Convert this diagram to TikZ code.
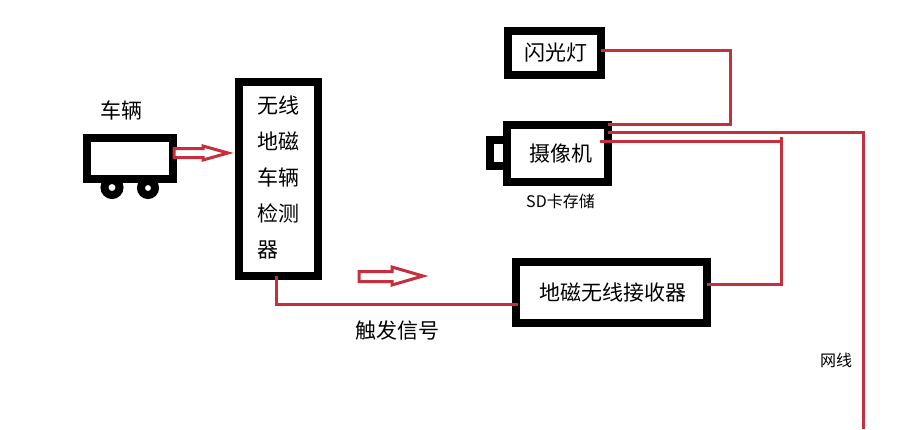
\documentclass[tikz,border=0pt]{standalone}
\usepackage{fontspec}
\setmainfont{Noto Sans CJK SC}
\definecolor{wire}{HTML}{C62F3B}
\newcommand{\fs}[2]{\fontsize{#1}{#2}\selectfont}
\tikzset{
  blackbox/.style={draw=black,line width=8pt,fill=white,inner sep=0pt,outer sep=0pt,minimum width=#1},
  wireline/.style={draw=wire,line width=3pt},
  hollow/.style={draw=wire,line width=3pt,fill=white,line join=miter},
  lbl/.style={inner sep=0pt,outer sep=0pt,text=black,font=\fs{21}{25}},
  smalllbl/.style={inner sep=0pt,outer sep=0pt,text=black,font=\fs{#1}{#1}},
}
\begin{document}
\begin{tikzpicture}[x=1pt,y=-1pt]
\useasboundingbox[fill=white] (0,0) rectangle (900,429);
% wheels
\node[circle,draw=black,line width=8pt,fill=white,minimum size=15pt,inner sep=0pt] (wheelA) at (112,187.5) {};
\node[circle,draw=black,line width=8pt,fill=white,minimum size=14pt,inner sep=0pt] (wheelB) at (148,188) {};
% boxes
\node[blackbox=86pt,minimum height=41pt] (car) at (130,158.5) {};
\node[blackbox=22pt,minimum height=26pt] (lens) at (501,153) {};
\node[blackbox=79pt,minimum height=194pt] (detector) at (278.5,179) {};
\node[inner sep=0pt,outer sep=0pt,align=left,font=\fs{21}{36}] (detectortext) at (278.5,177) {无线\\地磁\\车辆\\检测\\器};
\node[blackbox=93pt,minimum height=44pt,font=\fs{21}{25}] (flash) at (554.5,53) {\hspace*{3pt}闪光灯};
\node[blackbox=101pt,minimum height=57pt,font=\fs{21}{25}] (camera) at (557.5,153.5) {\hspace*{6pt}摄像机};
\node[blackbox=191pt,minimum height=61pt,font=\fs{21}{25}] (receiver) at (611.5,292.5) {\hspace*{3pt}\raisebox{1pt}{地磁无线接收器}};
% labels
\node[lbl] (carlabel) at (121,110) {车辆};
\node[lbl] (triggerlabel) at (397,331) {触发信号};
\node[smalllbl=16] (sdlabel) at (560.5,201) {SD卡存储};
\node[smalllbl=16] (netlabel) at (836,360) {网线};
% free ends and bends
\coordinate (netend) at (863,429);
\coordinate (flashbend) at (730.5,50);
\coordinate (flashdown) at (730.5,124);
\coordinate (netbend) at (863,132);
\coordinate (recvtop) at (781.5,137);
\coordinate (recvbend) at (781.5,284.5);
\coordinate (recvjoin) at (781.5,141);
\coordinate (trigbend) at (276,304);
% wires
\draw[wireline] ([yshift=3pt]flash.east) -- (flashbend) -- (flashdown) -- ([yshift=29.5pt]camera.east);
\draw[wireline] ([yshift=21.5pt]camera.east) -- (netbend) -- (netend);
\draw[wireline] ([xshift=-8pt,yshift=12.5pt]camera.east) -- (recvjoin);
\draw[wireline] (recvtop) -- (recvbend) -- ([yshift=8pt]receiver.east);
\draw[wireline] ([xshift=-2.5pt]detector.south) -- (trigbend) -- ([yshift=-11.5pt,xshift=2pt]receiver.west);
% hollow arrows
\draw[hollow] (174,148.5) -- (203,148.5) -- (203,146) -- (228,153) -- (203,160) -- (203,157.5) -- (174,157.5) -- cycle;
\draw[hollow] (359,271.5) -- (392,271.5) -- (392,267) -- (423,276) -- (392,285) -- (392,281.5) -- (359,281.5) -- cycle;
\end{tikzpicture}
\end{document}
